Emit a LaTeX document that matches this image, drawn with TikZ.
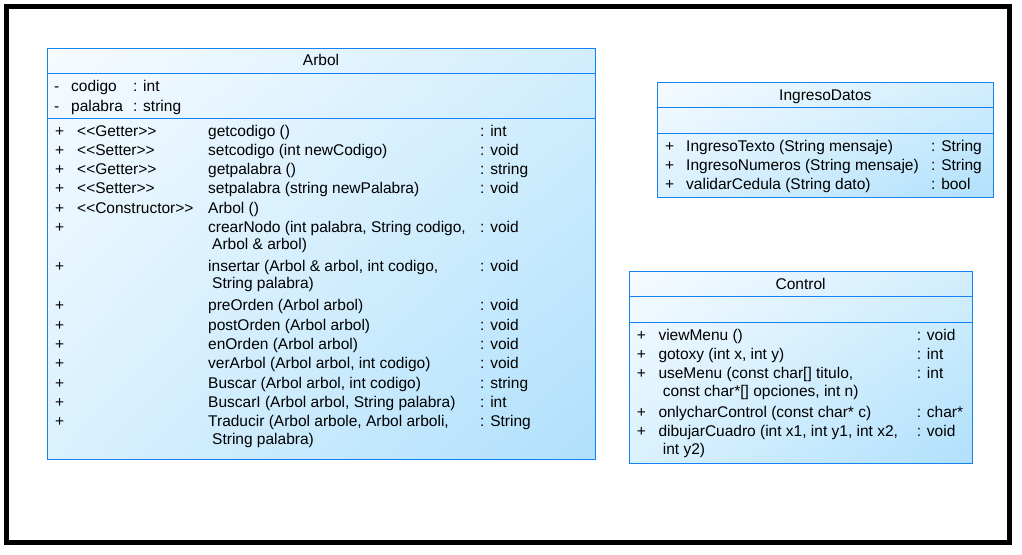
\documentclass[tikz,border=0pt]{standalone}
\usepackage{fontspec}
\setmainfont{Liberation Sans}
\usetikzlibrary{shadings}
\definecolor{umlline}{RGB}{20,130,240}
\definecolor{gUL}{RGB}{246,251,255}
\definecolor{gUR}{RGB}{210,238,253}
\definecolor{gLL}{RGB}{218,241,254}
\definecolor{gLR}{RGB}{176,224,252}
\newcommand{\stereo}[1]{<\kern0pt<#1>\kern0pt>}
\begin{document}
\begin{tikzpicture}[x=1pt,y=-1pt,
  txt/.style={anchor=base west,inner sep=0pt,font=\fontsize{15.5}{18}\selectfont},
  ttl/.style={anchor=base,inner sep=0pt,font=\fontsize{15.5}{18}\selectfont},
  boxfill/.style={upper left=gUL,upper right=gUR,lower left=gLL,lower right=gLR},
  boxline/.style={draw=umlline,line width=1pt}]
\useasboundingbox (0,0) rectangle (1022,554);
\fill[white] (0,0) rectangle (1022,554);
\draw[line width=5pt] (6.5,6.5) rectangle (1009.5,542.5);

% ---------------- Arbol ----------------
\shade[boxfill] (47,48) rectangle (595,459);
\draw[boxline] (47,48) rectangle (595,459);
\draw[boxline] (47,73.3) -- (595,73.3);
\draw[boxline] (47,118.3) -- (595,118.3);
\node[ttl] (arbT) at (321,65.7) {Arbol};
\node[txt] (aA1m) at (54,91) {-};
\node[txt] (aA1n) at (71,91) {codigo};
\node[txt] (aA1t) at (133,91) {: int};
\node[txt] (aA2m) at (54,111) {-};
\node[txt] (aA2n) at (71,111) {palabra};
\node[txt] (aA2t) at (133,111) {: string};

\node[txt] (m1p) at (55,136) {+};
\node[txt] (m1s) at (77,136) {\stereo{Getter}};
\node[txt] (m1n) at (208,136) {getcodigo ()};
\node[txt] (m1t) at (480,136) {: int};
\node[txt] (m2p) at (55,155.5) {+};
\node[txt] (m2s) at (77,155.5) {\stereo{Setter}};
\node[txt] (m2n) at (208,155.5) {setcodigo (int newCodigo)};
\node[txt] (m2t) at (480,155.5) {: void};
\node[txt] (m3p) at (55,174.5) {+};
\node[txt] (m3s) at (77,174.5) {\stereo{Getter}};
\node[txt] (m3n) at (208,174.5) {getpalabra ()};
\node[txt] (m3t) at (480,174.5) {: string};
\node[txt] (m4p) at (55,193.5) {+};
\node[txt] (m4s) at (77,193.5) {\stereo{Setter}};
\node[txt] (m4n) at (208,193.5) {setpalabra (string newPalabra)};
\node[txt] (m4t) at (480,193.5) {: void};
\node[txt] (m5p) at (55,213) {+};
\node[txt] (m5s) at (77,213) {\stereo{Constructor}};
\node[txt] (m5n) at (208,213) {Arbol ()};
\node[txt] (m6p) at (55,232.5) {+};
\node[txt] (m6n) at (208,232.5) {crearNodo (int palabra, String codigo,};
\node[txt] (m6c) at (212,249.5) {Arbol \& arbol)};
\node[txt] (m6t) at (480,232.5) {: void};
\node[txt] (m7p) at (55,271) {+};
\node[txt] (m7n) at (208,271) {insertar (Arbol \& arbol, int codigo,};
\node[txt] (m7c) at (212,288) {String palabra)};
\node[txt] (m7t) at (480,271) {: void};
\node[txt] (m8p) at (55,310.5) {+};
\node[txt] (m8n) at (208,310.5) {preOrden (Arbol arbol)};
\node[txt] (m8t) at (480,310.5) {: void};
\node[txt] (m9p) at (55,330) {+};
\node[txt] (m9n) at (208,330) {postOrden (Arbol arbol)};
\node[txt] (m9t) at (480,330) {: void};
\node[txt] (m10p) at (55,349.5) {+};
\node[txt] (m10n) at (208,349.5) {enOrden (Arbol arbol)};
\node[txt] (m10t) at (480,349.5) {: void};
\node[txt] (m11p) at (55,368.5) {+};
\node[txt] (m11n) at (208,368.5) {verArbol (Arbol arbol, int codigo)};
\node[txt] (m11t) at (480,368.5) {: void};
\node[txt] (m12p) at (55,388) {+};
\node[txt] (m12n) at (208,388) {Buscar (Arbol arbol, int codigo)};
\node[txt] (m12t) at (480,388) {: string};
\node[txt] (m13p) at (55,407) {+};
\node[txt] (m13n) at (208,407) {BuscarI (Arbol arbol, String palabra)};
\node[txt] (m13t) at (480,407) {: int};
\node[txt] (m14p) at (55,426.5) {+};
\node[txt] (m14n) at (208,426.5) {Traducir (Arbol arbole, Arbol arboli,};
\node[txt] (m14c) at (212,444) {String palabra)};
\node[txt] (m14t) at (480,426.5) {: String};

% ---------------- IngresoDatos ----------------
\shade[boxfill] (657.3,82.3) rectangle (993.3,197.3);
\draw[boxline] (657.3,82.3) rectangle (993.3,197.3);
\draw[boxline] (657.3,107.7) -- (993.3,107.7);
\draw[boxline] (657.3,133.7) -- (993.3,133.7);
\node[ttl] (ingT) at (825.3,100) {IngresoDatos};
\node[txt] (i1p) at (665,151.7) {+};
\node[txt] (i1n) at (686,151.7) {IngresoTexto (String mensaje)};
\node[txt] (i1t) at (931,151.7) {: String};
\node[txt] (i2p) at (665,170.7) {+};
\node[txt] (i2n) at (686,170.7) {IngresoNumeros (String mensaje)};
\node[txt] (i2t) at (931,170.7) {: String};
\node[txt] (i3p) at (665,189.5) {+};
\node[txt] (i3n) at (686,189.5) {validarCedula (String dato)};
\node[txt] (i3t) at (931,189.5) {: bool};

% ---------------- Control ----------------
\shade[boxfill] (629.3,271.7) rectangle (972,463.7);
\draw[boxline] (629.3,271.7) rectangle (972,463.7);
\draw[boxline] (629.3,296.7) -- (972,296.7);
\draw[boxline] (629.3,322.3) -- (972,322.3);
\node[ttl] (ctlT) at (800.6,289) {Control};
\node[txt] (c1p) at (636.7,340) {+};
\node[txt] (c1n) at (658.3,340) {viewMenu ()};
\node[txt] (c1t) at (916.7,340) {: void};
\node[txt] (c2p) at (636.7,359.3) {+};
\node[txt] (c2n) at (658.3,359.3) {gotoxy (int x, int y)};
\node[txt] (c2t) at (916.7,359.3) {: int};
\node[txt] (c3p) at (636.7,378.3) {+};
\node[txt] (c3n) at (658.3,378.3) {useMenu (const char[] titulo,};
\node[txt] (c3c) at (662.7,396.7) {const char*[] opciones, int n)};
\node[txt] (c3t) at (916.7,378.3) {: int};
\node[txt] (c4p) at (636.7,417.3) {+};
\node[txt] (c4n) at (658.3,417.3) {onlycharControl (const char* c)};
\node[txt] (c4t) at (916.7,417.3) {: char*};
\node[txt] (c5p) at (636.7,436) {+};
\node[txt] (c5n) at (658.3,436) {dibujarCuadro (int x1, int y1, int x2,};
\node[txt] (c5c) at (662.7,454.3) {int y2)};
\node[txt] (c5t) at (916.7,436) {: void};
\end{tikzpicture}
\end{document}
